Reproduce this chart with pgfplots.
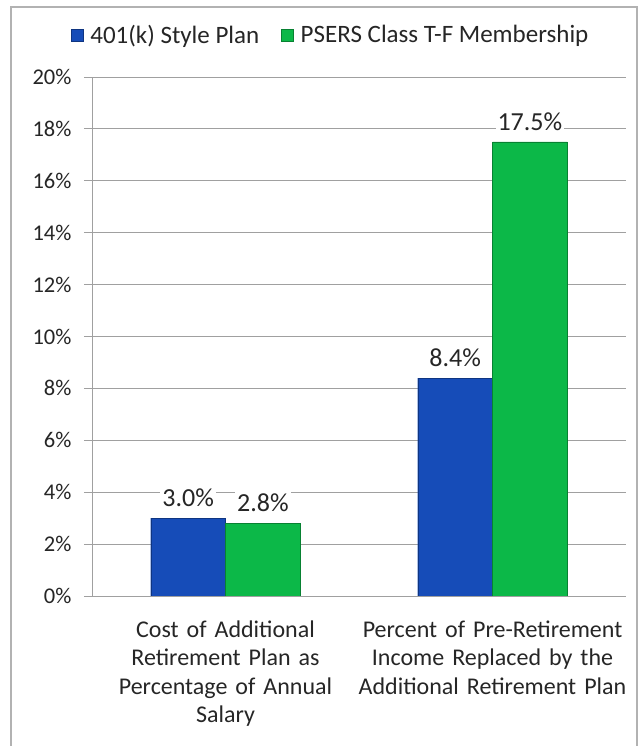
\documentclass[border=0pt]{standalone}
\usepackage{pgfplots}
\pgfplotsset{compat=1.18}
\usepackage{fontspec}
\setmainfont{Carlito}
\definecolor{barblue}{RGB}{22,76,184}
\definecolor{bargreen}{RGB}{12,184,72}
\definecolor{gridgray}{RGB}{160,160,160}
\begin{document}
\begin{tikzpicture}[x=1pt,y=1pt]
\useasboundingbox (0,0) rectangle (640,746);
\draw[gray!60, line width=1.2pt] (11,0) -- (11,739) -- (637,739) -- (637,0);
\begin{axis}[
  at={(92pt,150pt)}, anchor=south west,
  scale only axis, width=534pt, height=519pt,
  ybar=0pt, bar width=0.28,
  xmin=-0.5, xmax=1.5, ymin=0, ymax=20,
  ytick={0,2,...,20},
  yticklabel={\pgfmathprintnumber{\tick}\%},
  /pgf/number format/assume math mode=true,
  xtick={0,1},
  xticklabels={Cost of Additional\\Retirement Plan as\\Percentage of Annual\\Salary,
               Percent of Pre-Retirement\\Income Replaced by the\\Additional Retirement Plan},
  xticklabel style={align=center, text width=290pt, yshift=-13pt, font=\fontsize{24}{28.5}\selectfont},
  x tick style={draw=none},
  extra x ticks={-0.5,0.5,1.5},
  extra x tick labels={},
  extra x tick style={tick style={draw=gridgray, thick}, major tick length=8pt},
  axis lines*=left,
  axis line style={gridgray, thick},
  tick align=outside,
  major tick length=8pt,
  y tick style={gridgray, thick},
  ymajorgrids, grid style={gridgray, thick},
  tick label style={text=black!85},
  yticklabel style={xshift=-9pt, font=\fontsize{22.5}{26}\selectfont},
  nodes near coords={\pgfmathprintnumber[fixed,fixed zerofill,precision=1]{\pgfplotspointmeta}\%},
  every node near coord/.append style={font=\fontsize{26}{30}\selectfont, text=black!85, fill=white, inner sep=2pt, yshift=9pt},
  legend columns=-1,
  legend style={at={(0.447,1.081)}, anchor=center, draw=none,
    font=\fontsize{25}{30}\selectfont, text=black!85,
    /tikz/every odd column/.append style={column sep=5pt},
    /tikz/every even column/.append style={column sep=20pt}},
  legend image code/.code={\draw[#1, draw opacity=1] (0pt,-6pt) rectangle (12pt,6pt);},
]
\addplot[fill=barblue, draw=barblue!70!black] coordinates {(0,3.0) (1,8.4)};
\addplot[fill=bargreen, draw=bargreen!70!black] coordinates {(0,2.8) (1,17.5)};
\legend{401(k) Style Plan, PSERS Class T-F Membership}
\end{axis}
\end{tikzpicture}
\end{document}
